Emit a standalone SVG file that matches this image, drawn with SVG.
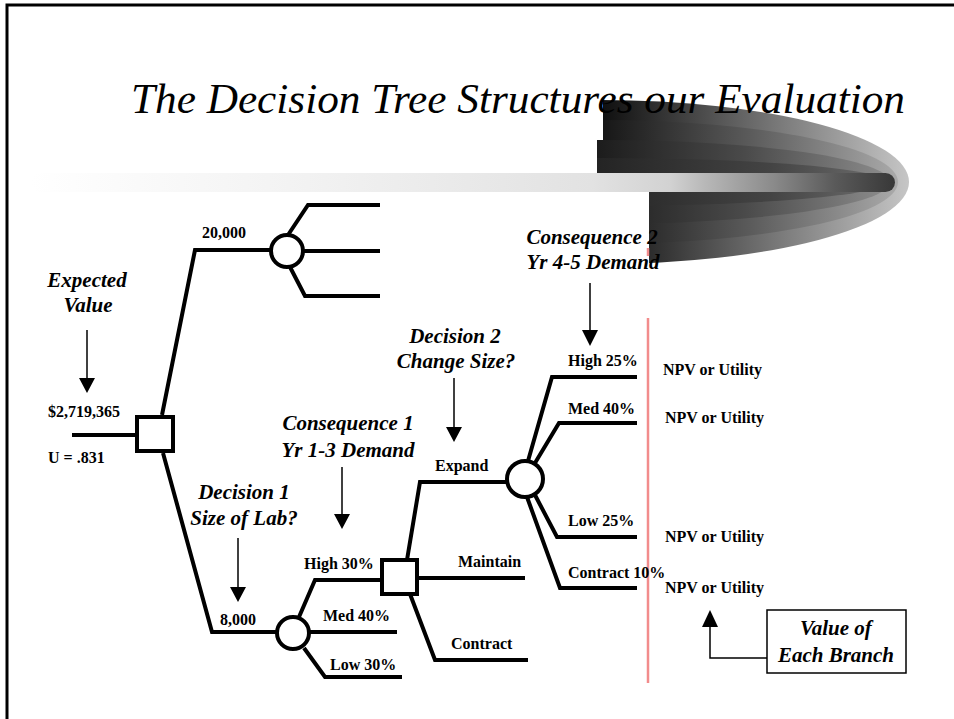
<svg xmlns="http://www.w3.org/2000/svg" width="954" height="719" viewBox="0 0 954 719">
<style>
  .ln{fill:none;stroke:#000;stroke-width:4;stroke-linejoin:miter}
  .nd{fill:#fff;stroke:#000;stroke-width:4}
  .ar{fill:none;stroke:#000;stroke-width:1.5}
  .ah{fill:#000}
  .lb{font-family:"Liberation Serif","Times New Roman",serif;font-weight:bold;font-size:16px;fill:#000}
  .it{font-family:"Liberation Serif","Times New Roman",serif;font-weight:bold;font-style:italic;font-size:21px;fill:#000;text-anchor:middle}
  .ttl{font-family:"Liberation Serif","Times New Roman",serif;font-style:italic;font-size:43px;fill:#000}
</style>
<defs>
  <filter id="soft" x="-5%" y="-5%" width="110%" height="110%"><feGaussianBlur stdDeviation="0.55"/></filter>
  <clipPath id="bulletClip"><path d="M603,90 H930 V290 H649 V192 H597 V140 H603 Z"/></clipPath>
  <linearGradient id="g1" gradientUnits="userSpaceOnUse" x1="597" y1="0" x2="909" y2="0">
    <stop offset="0" stop-color="#0c0c0c"/><stop offset="0.5" stop-color="#6a6a6a"/><stop offset="1" stop-color="#c6c6c6"/>
  </linearGradient>
  <linearGradient id="g2" gradientUnits="userSpaceOnUse" x1="597" y1="0" x2="900" y2="0">
    <stop offset="0" stop-color="#141414"/><stop offset="0.5" stop-color="#5a5a5a"/><stop offset="1" stop-color="#ababab"/>
  </linearGradient>
  <linearGradient id="g3" gradientUnits="userSpaceOnUse" x1="597" y1="0" x2="892" y2="0">
    <stop offset="0" stop-color="#1c1c1c"/><stop offset="0.5" stop-color="#4a4a4a"/><stop offset="1" stop-color="#8e8e8e"/>
  </linearGradient>
  <linearGradient id="g4" gradientUnits="userSpaceOnUse" x1="597" y1="0" x2="888" y2="0">
    <stop offset="0" stop-color="#242424"/><stop offset="0.6" stop-color="#444"/><stop offset="1" stop-color="#6e6e6e"/>
  </linearGradient>
  <linearGradient id="bar" gradientUnits="userSpaceOnUse" x1="30" y1="0" x2="895" y2="0">
    <stop offset="0" stop-color="#ffffff"/>
    <stop offset="0.3" stop-color="#f3f3f3"/>
    <stop offset="0.65" stop-color="#e2e2e2"/>
    <stop offset="0.74" stop-color="#d2d2d2"/>
    <stop offset="0.78" stop-color="#b8b8b8"/>
    <stop offset="0.86" stop-color="#8a8a8a"/>
    <stop offset="0.93" stop-color="#5a5a5a"/>
    <stop offset="1" stop-color="#383838"/>
  </linearGradient>
</defs>

<rect width="954" height="719" fill="#fff"/>
<path d="M7,719 V5 H954" fill="none" stroke="#000" stroke-width="3"/>

<g id="decoration">
  <g clip-path="url(#bulletClip)">
    <ellipse cx="600" cy="182" rx="309" ry="82" fill="url(#g1)"/>
    <ellipse cx="600" cy="182" rx="298" ry="62" fill="url(#g2)"/>
    <ellipse cx="600" cy="182" rx="290" ry="42" fill="url(#g3)"/>
    <ellipse cx="600" cy="182" rx="286" ry="24" fill="url(#g4)"/>
  </g>
  <rect x="30" y="173" width="865" height="19" rx="9.5" fill="url(#bar)"/>
</g>

<text id="title" class="ttl" x="131" y="113" textLength="774" lengthAdjust="spacingAndGlyphs">The Decision Tree Structures our Evaluation</text>

<g id="connectors" filter="url(#soft)">
  <path class="ln" d="M72,435 H137"/>
  <path class="ln" d="M162,415 L195,250 H271"/>
  <path class="ln" d="M288,235 L308,205 H380"/>
  <path class="ln" d="M303,251 H380"/>
  <path class="ln" d="M290,267 L305,296 H380"/>
  <path class="ln" d="M163,453 L212,632 H277"/>
  <path class="ln" d="M299,617 L315,580 H382"/>
  <path class="ln" d="M309,632 H397"/>
  <path class="ln" d="M304,648 L325,677 H402"/>
  <path class="ln" d="M407,560 L420,482 H507"/>
  <path class="ln" d="M417,578 H525"/>
  <path class="ln" d="M410,594 L435,660 H528"/>
  <path class="ln" d="M528,461 L552,377 H637"/>
  <path class="ln" d="M535,463 L559,423 H637"/>
  <path class="ln" d="M535,495 L557,537 H637"/>
  <path class="ln" d="M527,497 L560,588 H637"/>
</g>

<g id="root-decision" filter="url(#soft)"><rect class="nd" x="137" y="417" width="36" height="34"/></g>
<g id="chance-20000" filter="url(#soft)"><circle class="nd" cx="287" cy="251" r="16"/></g>
<g id="chance-8000" filter="url(#soft)"><circle class="nd" cx="293" cy="633" r="16"/></g>
<g id="decision-2" filter="url(#soft)"><rect class="nd" x="382" y="560" width="35" height="34"/></g>
<g id="chance-expand" filter="url(#soft)"><circle class="nd" cx="525" cy="479" r="18"/></g>

<g id="red-line">
  <line x1="648" y1="248" x2="648" y2="256" stroke="#f28c8c" stroke-width="2.5"/>
  <line x1="648" y1="318" x2="648" y2="683" stroke="#f28c8c" stroke-width="2.5"/>
</g>

<g id="arrows">
  <line class="ar" x1="87" y1="330" x2="87" y2="379"/><polygon class="ah" points="79,378 95,378 87,393"/>
  <line class="ar" x1="238" y1="538" x2="238" y2="588"/><polygon class="ah" points="230,587 246,587 238,602"/>
  <line class="ar" x1="342" y1="467" x2="342" y2="515"/><polygon class="ah" points="334,514 350,514 342,529"/>
  <line class="ar" x1="454" y1="378" x2="454" y2="428"/><polygon class="ah" points="446,427 462,427 454,442"/>
  <line class="ar" x1="590" y1="283" x2="590" y2="331"/><polygon class="ah" points="582,330 598,330 590,346"/>
  <polyline class="ar" points="767,658 710,658 710,626"/><polygon class="ah" points="702,627 718,627 710,610"/>
</g>

<g id="annotations">
  <text class="it" x="87" y="287">Expected</text>
  <text class="it" x="88" y="312">Value</text>
  <text class="it" x="244" y="499">Decision 1</text>
  <text class="it" x="244" y="525">Size of Lab?</text>
  <text class="it" x="348" y="430">Consequence 1</text>
  <text class="it" x="348" y="457">Yr 1-3 Demand</text>
  <text class="it" x="455" y="343">Decision 2</text>
  <text class="it" x="456" y="368">Change Size?</text>
  <text class="it" x="592" y="244">Consequence 2</text>
  <text class="it" x="593" y="269">Yr 4-5 Demand</text>
</g>

<g id="labels">
  <text class="lb" x="48" y="417">$2,719,365</text>
  <text class="lb" x="48" y="463">U = .831</text>
  <text class="lb" x="202" y="238">20,000</text>
  <text class="lb" x="238" y="625" text-anchor="middle">8,000</text>
  <text class="lb" x="304" y="569">High 30%</text>
  <text class="lb" x="323" y="621">Med 40%</text>
  <text class="lb" x="330" y="670">Low 30%</text>
  <text class="lb" x="435" y="471">Expand</text>
  <text class="lb" x="458" y="567">Maintain</text>
  <text class="lb" x="451" y="649">Contract</text>
  <text class="lb" x="568" y="366">High 25%</text>
  <text class="lb" x="568" y="414">Med 40%</text>
  <text class="lb" x="568" y="526">Low 25%</text>
  <text class="lb" x="568" y="578">Contract 10%</text>
  <text class="lb" x="663" y="375">NPV or Utility</text>
  <text class="lb" x="665" y="423">NPV or Utility</text>
  <text class="lb" x="665" y="542">NPV or Utility</text>
  <text class="lb" x="665" y="593">NPV or Utility</text>
</g>

<g id="value-box">
  <rect x="767" y="610" width="139" height="63" fill="#fff" stroke="#000" stroke-width="1.5"/>
  <text class="it" x="836" y="635">Value of</text>
  <text class="it" x="836" y="662">Each Branch</text>
</g>
</svg>
